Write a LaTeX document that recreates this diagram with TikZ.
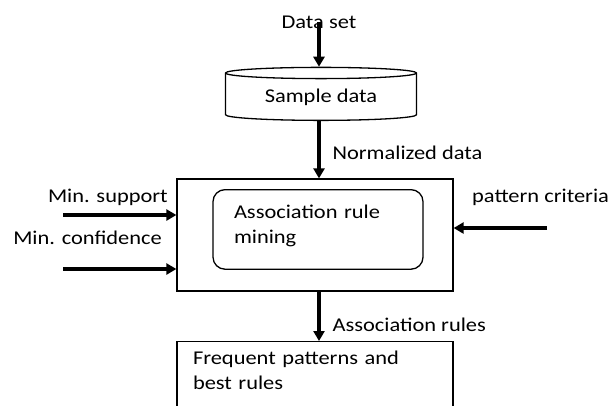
\documentclass[tikz,border=0pt]{standalone}
\usepackage{fontspec}
\setmainfont{Carlito}[FakeStretch=1.15]
\usetikzlibrary{arrows.meta, positioning, shapes.geometric}

\begin{document}
\begin{tikzpicture}[
  x=1pt, y=-1pt,
  font=\fontsize{19.5}{25}\selectfont,
  frame/.style={draw, line width=1.3pt, inner sep=0pt},
  flow/.style={line width=3.2pt, -{Triangle[width=11pt,length=10pt]}},
  tag/.style={inner sep=0pt}
]
  \clip (0,0) rectangle (613,405);
  \node[tag] (dataset) at (319,22) {Data set};
  \node[frame, cylinder, shape border rotate=90, aspect=0.1,
        minimum width=191pt, minimum height=53pt] (sample) at (321,97) {Sample data};
  \node[frame, minimum width=276pt, minimum height=112pt] (engine) at (315,235) {};
  \node[frame, rounded corners=12pt, anchor=north, text width=168pt, align=left,
        inner xsep=21pt, inner ysep=15pt, text depth=36pt] (mining) at (318,189) {Association rule\\mining};
  \node[frame, anchor=north, text width=244pt, align=left,
        inner xsep=16pt, inner ysep=9pt, text depth=60pt] (result) at (315,341) {Frequent patterns and\\best rules};

  \node[tag, anchor=east] (minsupp) at (168,197) {Min. support};
  \node[tag, anchor=east] (minconf) at (162,238) {Min. confidence};
  \node[tag, anchor=west] (criteria) at (472,197) {pattern criteria};
  \coordinate (suppin) at (63,215);
  \coordinate (confin) at (63,269);
  \coordinate (critin) at (547,228);

  \draw[flow] (dataset.center) -- (dataset |- sample.north);
  \draw[flow] (dataset |- sample.south) -- (dataset |- engine.north)
    node[tag, pos=0.55, right=12pt] {Normalized data};
  \draw[flow] (dataset |- engine.south) -- (dataset |- result.north)
    node[tag, pos=0.68, right=12pt] {Association rules};
  \draw[flow] (suppin) -- (suppin -| engine.west);
  \draw[flow] (confin) -- (confin -| engine.west);
  \draw[flow] (critin) -- (critin -| engine.east);
\end{tikzpicture}
\end{document}
